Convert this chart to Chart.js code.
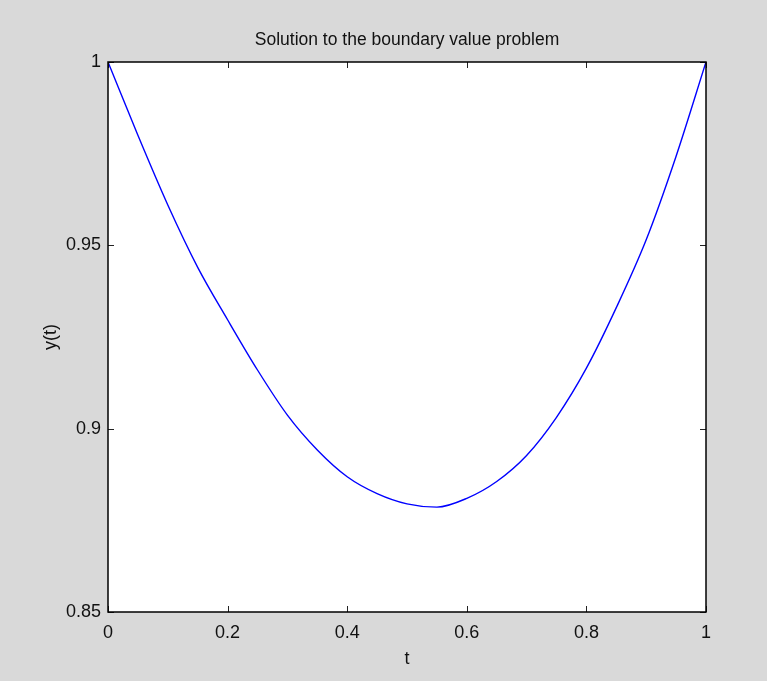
<!DOCTYPE html>
<html>
<head>
<meta charset="utf-8">
<script src="https://cdn.jsdelivr.net/npm/chart.js@4/dist/chart.umd.min.js"></script>
<style>
  html, body { margin: 0; padding: 0; background: #d9d9d9; }
  canvas { display: block; }
</style>
</head>
<body>
<canvas id="bvp" width="767" height="681"></canvas>
<script>
/* ── Data ──────────────────────────────────────────────────────────────── */
const tValues = [0, 0.05, 0.10, 0.15, 0.20, 0.25, 0.30, 0.35, 0.40, 0.45, 0.50,
                 0.55, 0.60, 0.65, 0.70, 0.75, 0.80, 0.85, 0.90, 0.95, 1.00];
const yValues = [1.0000, 0.9800, 0.9610, 0.9440, 0.9297, 0.9160, 0.9037, 0.8942, 0.8869, 0.8823, 0.8795,
                 0.8786, 0.8810, 0.8856, 0.8927, 0.9031, 0.9165, 0.9330, 0.9515, 0.9743, 1.0000];

const xTicks = [0, 0.2, 0.4, 0.6, 0.8, 1];
const xTickLabels = ['0', '0.2', '0.4', '0.6', '0.8', '1'];
const yTicks = [0.85, 0.9, 0.95, 1];
const yTickLabels = ['0.85', '0.9', '0.95', '1'];

/* ── Look ──────────────────────────────────────────────────────────────── */
const FONT_FAMILY = "'Liberation Sans', Arial, sans-serif";
const TEXT = '#111111';
const LABEL_SIZE = 18;
const TICK_LEN = 6;

Chart.defaults.font.family = FONT_FAMILY;
Chart.defaults.color = TEXT;

// white axes box + inward tick marks on all four sides, MATLAB style
const axesBox = {
  id: 'axesBox',
  beforeDraw(chart) {
    const { ctx, chartArea: a } = chart;
    ctx.save();
    ctx.fillStyle = '#ffffff';
    ctx.fillRect(a.left, a.top, a.right - a.left, a.bottom - a.top);
    ctx.restore();
  },
  afterDraw(chart) {
    const { ctx, chartArea: a, scales } = chart;
    ctx.save();
    ctx.strokeStyle = '#222222';
    ctx.lineWidth = 1;
    ctx.beginPath();
    xTicks.forEach(v => {
      const px = Math.round(scales.x.getPixelForValue(v)) + 0.5;
      ctx.moveTo(px, a.bottom); ctx.lineTo(px, a.bottom - TICK_LEN);
      ctx.moveTo(px, a.top);    ctx.lineTo(px, a.top + TICK_LEN);
    });
    yTicks.forEach(v => {
      const py = Math.round(scales.y.getPixelForValue(v)) + 0.5;
      ctx.moveTo(a.left, py);  ctx.lineTo(a.left + TICK_LEN, py);
      ctx.moveTo(a.right, py); ctx.lineTo(a.right - TICK_LEN, py);
    });
    ctx.stroke();

    ctx.strokeStyle = '#000000';
    ctx.lineWidth = 1.5;
    ctx.strokeRect(a.left, a.top, a.right - a.left, a.bottom - a.top);
    ctx.restore();
  },
};

new Chart(document.getElementById('bvp'), {
  type: 'line',
  data: {
    datasets: [{
      label: 'y(t)',
      data: tValues.map((t, i) => ({ x: t, y: yValues[i] })),
      borderColor: '#0000ff',
      borderWidth: 1.4,
      pointRadius: 0,
      cubicInterpolationMode: 'monotone',
      fill: false,
    }],
  },
  options: {
    responsive: false,
    devicePixelRatio: 1,
    animation: false,
    layout: { padding: { left: 0, top: 0, right: 61, bottom: 0 } },
    plugins: {
      legend: { display: false },
      tooltip: { enabled: false },
      title: {
        display: true,
        text: 'Solution to the boundary value problem',
        fullSize: false,
        color: TEXT,
        font: { size: 17.5, weight: 'normal' },
        padding: { top: 30, bottom: 11 },
      },
    },
    scales: {
      x: {
        type: 'linear',
        min: 0,
        max: 1,
        afterBuildTicks: s => { s.ticks = xTicks.map(v => ({ value: v })); },
        afterFit: s => { s.height = 69; },
        ticks: {
          padding: 10,
          font: { size: LABEL_SIZE },
          color: TEXT,
          maxRotation: 0,
          callback: (v, i) => xTickLabels[i],
        },
        grid: { drawOnChartArea: false, drawTicks: false },
        border: { display: false },
        title: {
          display: true,
          text: 't',
          font: { size: LABEL_SIZE },
          color: TEXT,
          padding: { top: 0, bottom: 11 },
        },
      },
      y: {
        type: 'linear',
        min: 0.85,
        max: 1,
        afterBuildTicks: s => { s.ticks = yTicks.map(v => ({ value: v })); },
        afterFit: s => { s.width = 108; },
        ticks: {
          padding: 7,
          font: { size: LABEL_SIZE },
          color: TEXT,
          callback: (v, i) => yTickLabels[i],
        },
        grid: { drawOnChartArea: false, drawTicks: false },
        border: { display: false },
        title: {
          display: true,
          text: 'y(t)',
          font: { size: LABEL_SIZE },
          color: TEXT,
          padding: { top: 40, bottom: 0 },
        },
      },
    },
  },
  plugins: [axesBox],
});
</script>
</body>
</html>
